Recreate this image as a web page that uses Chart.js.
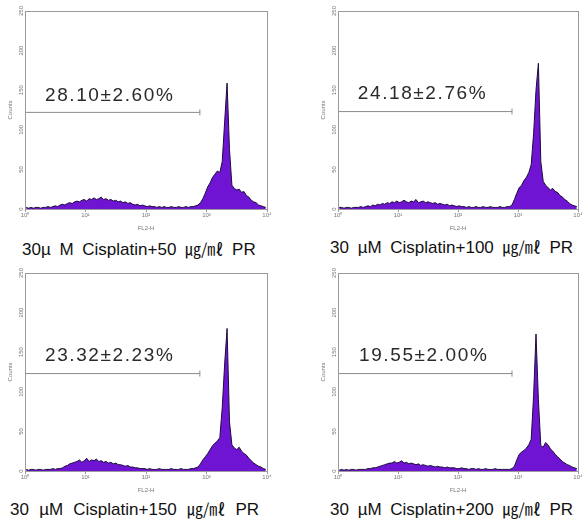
<!DOCTYPE html>
<html>
<head>
<meta charset="utf-8">
<script src="https://cdn.jsdelivr.net/npm/chart.js@4"></script>
<style>
  body { margin: 0; background: #fff; }
  #wrap { position: relative; width: 582px; height: 524px; overflow: hidden; }
  canvas { position: absolute; }
  .cap {
    position: absolute;
    white-space: pre;
    font-family: "Liberation Sans", "Noto Sans CJK KR", sans-serif;
    font-size: 17px;
    line-height: 20px;
    color: #111;
    word-spacing: 4px;
  }
  .unit { font-family: "Noto Sans CJK KR", sans-serif; font-size: 16px; }
</style>
</head>
<body>
<div id="wrap">
  <canvas id="p1"></canvas>
  <canvas id="p2"></canvas>
  <canvas id="p3"></canvas>
  <canvas id="p4"></canvas>
  <div class="cap" style="left:22px; top:238px;">30µ M Cisplatin+50 <span class="unit">㎍/㎖</span> PR</div>
  <div class="cap" style="left:330px; top:236px;">30 µM Cisplatin+100 <span class="unit">㎍/㎖</span> PR</div>
  <div class="cap" style="left:10px; top:498px; word-spacing:5.5px;">30 µM Cisplatin+150 <span class="unit">㎍/㎖</span> PR</div>
  <div class="cap" style="left:330px; top:498px;">30 µM Cisplatin+200 <span class="unit">㎍/㎖</span> PR</div>
</div>
<script>
// FL2-H histogram counts, 100 bins spread evenly over log10 0..4 (10^0 .. 10^4)
const counts50 = [
  2,1,2,1,2,2,1,2,2,3,2,
  3,4,3,5,6,5,7,8,7,9,
  10,9,11,12,10,13,12,14,12,13,15,12,13,11,12,
  10,11,9,10,8,9,7,8,6,5,6,4,
  5,4,3,4,3,3,2,3,2,3,2,2,3,2,2,3,2,2,3,2,3,3,4,
  5,8,13,20,28,33,40,44,48,46,60,110,159,75,30,26,24,25,21,22,17,15,11,9,8,5,4,3,2
];
const counts100 = [
  2,2,1,2,2,1,2,2,2,3,2,
  3,4,3,5,4,6,5,7,6,8,
  7,9,8,10,8,9,11,9,8,10,9,12,8,9,10,8,9,8,
  7,8,6,7,6,5,6,4,5,4,3,4,
  3,3,2,3,2,2,3,2,2,3,2,2,3,2,2,2,3,2,2,3,3,
  5,12,20,27,30,36,40,46,56,95,150,184,60,35,30,27,24,26,22,21,17,15,12,10,7,5,4,3
];
const counts150 = [
  2,1,2,2,1,2,2,1,2,2,2,3,2,3,3,
  4,6,7,9,10,11,
  12,14,11,13,16,12,14,13,15,12,13,11,12,10,11,
  9,10,8,8,7,6,7,5,5,4,4,3,
  3,3,2,3,2,2,2,3,2,2,2,2,3,2,2,2,3,2,2,2,3,3,4,
  5,9,14,18,22,27,32,35,38,42,80,135,180,62,33,29,27,30,25,22,20,16,13,10,8,6,5,3,2
];
const counts200 = [
  1,2,1,2,1,2,2,1,2,2,2,2,3,
  3,4,4,5,6,7,8,9,10,
  10,12,10,11,13,10,11,9,10,9,
  8,9,7,8,7,6,7,6,5,6,5,5,4,5,4,4,
  4,3,3,4,3,3,2,3,3,2,3,2,2,3,2,2,2,3,2,2,2,2,2,2,
  3,6,14,21,24,26,29,33,40,95,173,90,32,30,36,33,28,25,21,18,15,12,10,8,7,5,4,3
];

// marker gate: [start decade, end decade, counts level]
const gates = [[0, 2.89, 122], [0, 2.9, 123], [0, 2.89, 123], [0, 2.9, 123]];
const gateLabels = ['28.10\u00b12.60%', '24.18\u00b12.76%', '23.32\u00b12.23%', '19.55\u00b12.00%'];
const labelAt = [[0.33, 143], [0.33, 145], [0.33, 146], [0.35, 146]];

const decadeTicks = ['10\u2070', '10\u00b9', '10\u00b2', '10\u00b3', '10\u2074'];
const countTicks = [0, 50, 100, 150, 200, 250];

const panels = [
  { id: 'p1', left: 0, top: 0, width: 290, data: counts50 },
  { id: 'p2', left: 313, top: 0, width: 288, data: counts100 },
  { id: 'p3', left: 0, top: 262, width: 290, data: counts150 },
  { id: 'p4', left: 313, top: 262, width: 288, data: counts200 }
];

const frame = {
  id: 'frame',
  afterDraw(chart, args, opts) {
    const a = chart.chartArea;
    const ctx = chart.ctx;
    const xs = chart.scales.x, ys = chart.scales.y;
    ctx.save();
    ctx.strokeStyle = '#9a9a9a';
    ctx.lineWidth = 1;
    ctx.strokeRect(Math.round(a.left) + 0.5, Math.round(a.top) + 0.5,
      Math.round(a.right - a.left), Math.round(a.bottom - a.top));

    // rotated count labels beside the y axis
    ctx.fillStyle = '#777';
    ctx.font = '6px "Liberation Sans", sans-serif';
    ctx.textAlign = 'center';
    ctx.textBaseline = 'middle';
    ys.ticks.forEach(function(t) {
      ctx.save();
      ctx.translate(a.left - 4, ys.getPixelForValue(t.value));
      ctx.rotate(-Math.PI / 2);
      ctx.fillText(String(t.value), 0, 0);
      ctx.restore();
    });

    // gate percentage text
    ctx.fillStyle = '#2a2a2a';
    ctx.font = '19px "Liberation Sans", sans-serif';
    ctx.letterSpacing = '1.6px';
    ctx.textBaseline = 'middle';
    ctx.textAlign = 'left';
    ctx.fillText(opts.text, xs.getPixelForValue(opts.at[0]), ys.getPixelForValue(opts.at[1]));
    ctx.restore();
  }
};

panels.forEach(function(p, k) {
  const cv = document.getElementById(p.id);
  cv.width = p.width;
  cv.height = 234;
  cv.style.left = p.left + 'px';
  cv.style.top = p.top + 'px';

  const hist = p.data.map(function(v, i) { return { x: 0.02 + i * 0.04, y: v }; });
  const g = gates[k];

  new Chart(cv.getContext('2d'), {
    type: 'line',
    data: {
      datasets: [
        {
          data: [{ x: g[0], y: g[2] }, { x: g[1], y: g[2] }],
          borderColor: '#8a8a8a',
          borderWidth: 1,
          pointStyle: 'line',
          rotation: 90,
          pointRadius: [0, 3],
          pointBorderColor: '#8a8a8a',
          pointBorderWidth: 1,
          fill: false,
          order: 0
        },
        {
          data: hist,
          borderColor: '#1d0c3c',
          borderWidth: 1,
          backgroundColor: '#6e14d2',
          fill: 'origin',
          pointRadius: 0,
          tension: 0,
          order: 1
        }
      ]
    },
    options: {
      responsive: false,
      animation: false,
      devicePixelRatio: 1,
      layout: { padding: { top: 11, right: 23, left: 0, bottom: 0 } },
      plugins: {
        legend: { display: false },
        tooltip: { enabled: false },
        frame: { text: gateLabels[k], at: labelAt[k] }
      },
      scales: {
        x: {
          type: 'linear',
          min: 0,
          max: 4,
          afterBuildTicks: function(s) { s.ticks = decadeTicks.map(function(t, i) { return { value: i }; }); },
          afterFit: function(s) { s.height = 25; },
          grid: { display: true, drawOnChartArea: false, drawTicks: true, tickLength: 3, color: '#9a9a9a' },
          border: { display: true, color: '#9a9a9a' },
          ticks: {
            autoSkip: false,
            maxRotation: 0,
            padding: 0,
            color: '#777',
            font: { size: 6, family: 'Liberation Sans' },
            callback: function(v) { return decadeTicks[v]; }
          },
          title: {
            display: true,
            text: 'FL2-H',
            color: '#777',
            font: { size: 6, family: 'Liberation Sans' },
            padding: { top: 0, bottom: 2 }
          }
        },
        y: {
          min: 0,
          max: 250,
          afterBuildTicks: function(s) { s.ticks = countTicks.map(function(v) { return { value: v }; }); },
          afterFit: function(s) { s.width = 25; },
          grid: { display: false },
          border: { display: true, color: '#9a9a9a' },
          ticks: { display: false },
          title: {
            display: true,
            text: 'Counts',
            color: '#777',
            font: { size: 6, family: 'Liberation Sans' },
            padding: { top: 7, bottom: 0 }
          }
        }
      }
    },
    plugins: [frame]
  });
});
</script>
</body>
</html>
